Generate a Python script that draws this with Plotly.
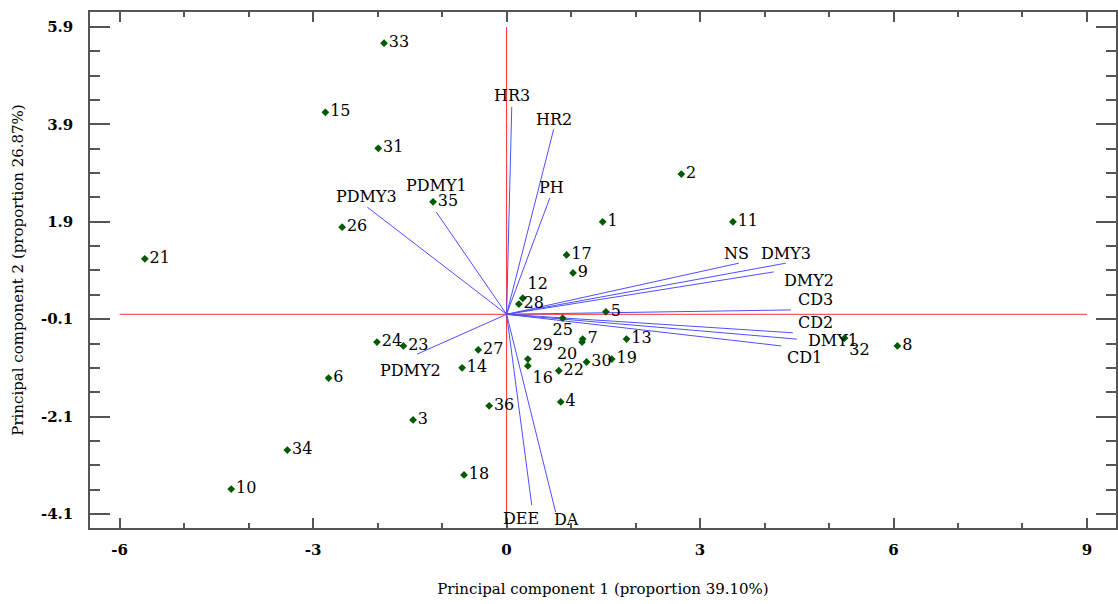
import plotly.graph_objects as go

# ---- data ----
obs_labels = [str(i) for i in range(1, 37)]
obs_pc1 = [1.49, 2.71, -1.45, 0.84, 1.54, -2.76, 1.18, 6.06, 1.03, -4.27,
           3.51, 0.25, 1.86, -0.69, -2.81, 0.33, 0.93, -0.66, 1.63, 1.17,
           -5.61, 0.81, -1.60, -2.01, 0.87, -2.55, -0.44, 0.19, 0.33, 1.24,
           -1.99, 5.24, -1.90, -3.40, -1.14, -0.27]
obs_pc2 = [1.90, 2.88, -2.17, -1.80, 0.05, -1.31, -0.51, -0.65, 0.85, -3.59,
           1.90, 0.33, -0.51, -1.10, 4.15, -1.06, 1.22, -3.30, -0.92, -0.57,
           1.14, -1.16, -0.65, -0.57, -0.08, 1.79, -0.73, 0.21, -0.92, -0.98,
           3.41, -0.49, 5.57, -2.79, 2.31, -1.88]

var_names = ["HR3", "HR2", "PH", "PDMY1", "PDMY3", "PDMY2", "NS", "DMY3",
             "DMY2", "CD3", "CD2", "DMY1", "CD1", "DEE", "DA"]
var_pc1 = [0.08, 0.73, 0.67, -1.09, -2.16, -1.39, 3.60, 4.33,
           4.14, 4.41, 4.44, 4.50, 4.26, 0.39, 0.76]
var_pc2 = [4.26, 3.80, 2.39, 2.10, 2.20, -0.82, 1.05, 1.05,
           0.87, 0.09, -0.38, -0.51, -0.65, -3.92, -4.06]

x_ticks = [-6, -3, 0, 3, 6, 9]
x_ticktext = ["-6", "-3", "0", "3", "6", "9"]
y_ticks = [5.9, 3.9, 1.9, -0.1, -2.1, -4.1]
y_ticktext = ["5.9", "3.9", "1.9", "-0.1", "-2.1", "-4.1"]

x_title = "Principal component 1 (proportion 39.10%)"
y_title = "Principal component 2 (proportion 26.87%)"

# ---- styling ----
FONT = "DejaVu Serif"
XR = [-6.46, 9.45]
YR = [-4.39, 6.21]

special_pos = {"12": "top right", "25": "bottom center", "20": "bottom left",
               "29": "top right", "16": "bottom right", "32": "bottom right"}
text_pos = [special_pos.get(l, "middle right") for l in obs_labels]

# label offsets (pixels: dx right, dy down) for variable vectors
var_off = {"HR3": (0, -11), "HR2": (0, -10), "PH": (2, -10), "PDMY1": (0, -27),
           "PDMY3": (-1, -11), "PDMY2": (-6, 16), "NS": (-2, -10), "DMY3": (0, -10),
           "DMY2": (35, 9), "CD3": (25, -10), "CD2": (23, -10), "DMY1": (36, 1),
           "CD1": (23, 12), "DEE": (-11, 13), "DA": (11, 8)}

fig = go.Figure()

# reference axes (red)
fig.add_trace(go.Scatter(x=[x_ticks[0], x_ticks[-1]], y=[0, 0], mode="lines",
                         line=dict(color="#ff3030", width=1), hoverinfo="skip",
                         showlegend=False))
fig.add_trace(go.Scatter(x=[0, 0], y=[YR[0], y_ticks[0]], mode="lines",
                         line=dict(color="#ff3030", width=1), hoverinfo="skip",
                         showlegend=False))

# variable vectors (blue)
lx, ly = [], []
for vx, vy in zip(var_pc1, var_pc2):
    lx += [0, vx, None]
    ly += [0, vy, None]
fig.add_trace(go.Scatter(x=lx, y=ly, mode="lines",
                         line=dict(color="#4f4fff", width=1), hoverinfo="skip",
                         showlegend=False))

# observations
fig.add_trace(go.Scatter(x=obs_pc1, y=obs_pc2, mode="markers+text",
                         text=obs_labels, textposition=text_pos,
                         textfont=dict(family=FONT, size=16, color="black"),
                         marker=dict(symbol="diamond", size=6, color="#005a00"),
                         showlegend=False))

for name, vx, vy in zip(var_names, var_pc1, var_pc2):
    dx, dy = var_off[name]
    fig.add_annotation(x=vx, y=vy, text=name, showarrow=False,
                       xshift=dx, yshift=-dy,
                       font=dict(family=FONT, size=16, color="black"))

axis_common = dict(showgrid=False, zeroline=False, showline=True,
                   linecolor="#555555", linewidth=1.5, mirror="ticks",
                   ticks="inside", tickcolor="#555555", tickwidth=1.5,
                   tickfont=dict(family=FONT, size=15, color="black", weight="bold"),
                   tickmode="array")

fig.update_xaxes(range=XR, tickvals=x_ticks, ticktext=x_ticktext, ticklen=10,
                 ticklabelstandoff=7,
                 minor=dict(dtick=1, tick0=0, ticklen=5, ticks="inside",
                            tickcolor="#555555", tickwidth=1.5, showgrid=False),
                 title=dict(text=x_title, font=dict(family=FONT, size=15, color="black"),
                            standoff=26),
                 **axis_common)
fig.update_yaxes(range=YR, tickvals=y_ticks, ticktext=y_ticktext, ticklen=20,
                 ticklabelstandoff=12,
                 minor=dict(dtick=0.5, tick0=-0.1, ticklen=10, ticks="inside",
                            tickcolor="#555555", tickwidth=1.5, showgrid=False),
                 title=dict(text=y_title, font=dict(family=FONT, size=15, color="black"),
                            standoff=14),
                 **axis_common)

fig.update_layout(width=1118, height=604,
                  margin=dict(l=90, r=0, t=12, b=76),
                  plot_bgcolor="white", paper_bgcolor="white",
                  showlegend=False)

fig.write_html("out.html")
